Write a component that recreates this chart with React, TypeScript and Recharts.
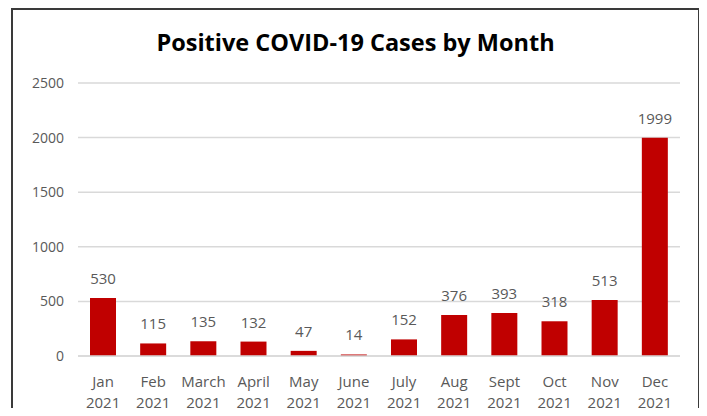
import { BarChart, Bar, XAxis, YAxis, CartesianGrid, LabelList } from "recharts";

const months = ["Jan", "Feb", "March", "April", "May", "June", "July", "Aug", "Sept", "Oct", "Nov", "Dec"];
const year = "2021";
const cases = [530, 115, 135, 132, 47, 14, 152, 376, 393, 318, 513, 1999];
const yTicks = [0, 500, 1000, 1500, 2000, 2500];

const data = months.map((m, i) => ({ name: `${m} ${year}`, cases: cases[i] }));

const FONT = "'Open Sans', Lato, sans-serif";
const TEXT = "#595959";

function MonthTick({ x, y, payload }: any) {
  const [m, yr] = String(payload.value).split(" ");
  return (
    <text x={x} y={y} textAnchor="middle" fill={TEXT} fontSize={15} fontFamily={FONT}>
      <tspan x={x} dy={23}>{m}</tspan>
      <tspan x={x} dy={21}>{yr}</tspan>
    </text>
  );
}

export default function App() {
  return (
    <div style={{ position: "relative", margin: -8, width: 707, height: 416, overflow: "hidden", background: "#fff" }}>
      <div
        style={{
          position: "absolute",
          left: 11,
          top: 8,
          width: 685,
          height: 500,
          border: "2px solid #3a3a3a",
        }}
      />
      <div
        style={{
          position: "absolute",
          left: 0,
          width: 711,
          top: 26,
          textAlign: "center",
          fontFamily: FONT,
          fontWeight: 700,
          fontSize: 23.5,
          color: "#000",
        }}
      >
        Positive COVID-19 Cases by Month
      </div>
      <div style={{ position: "absolute", left: 0, top: 0 }}>
        <BarChart
          width={707}
          height={416}
          data={data}
          margin={{ top: 83, right: 27, left: 18, bottom: 0 }}
        >
          <CartesianGrid vertical={false} stroke="#d9d9d9" strokeWidth={1.5} />
          <XAxis
            dataKey="name"
            axisLine={{ stroke: "#d9d9d9", strokeWidth: 1.5 }}
            tickLine={false}
            interval={0}
            tick={<MonthTick />}
            height={60}
          />
          <YAxis
            width={60}
            domain={[0, 2500]}
            ticks={yTicks}
            axisLine={false}
            tickLine={false}
            tickMargin={8}
            tick={{ fill: TEXT, fontSize: 14, fontFamily: FONT }}
          />
          <Bar dataKey="cases" fill="#c00000" barSize={26} isAnimationActive={false}>
            <LabelList dataKey="cases" position="top" offset={14} fill={TEXT} fontSize={15} fontFamily={FONT} />
          </Bar>
        </BarChart>
      </div>
    </div>
  );
}
